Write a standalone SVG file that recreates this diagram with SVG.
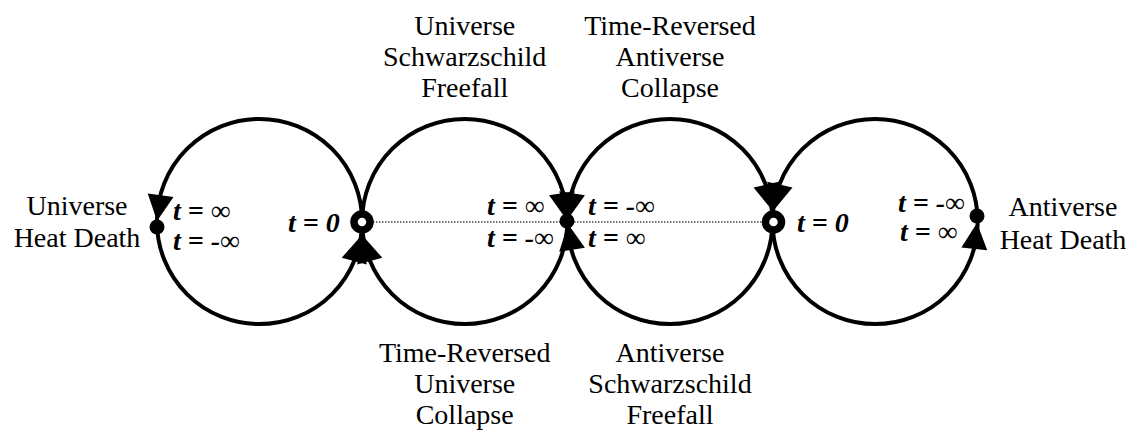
<svg xmlns="http://www.w3.org/2000/svg" xmlns:xlink="http://www.w3.org/1999/xlink" width="1131" height="432" viewBox="0 0 1131 432">
<style>
.lbl{font-family:"Liberation Serif","Times New Roman",serif;font-size:28px;fill:#000;text-anchor:middle}
.t{font-family:"Liberation Serif","Times New Roman",serif;font-size:28px;font-weight:bold;font-style:italic;fill:#000}
.inf{font-weight:normal;font-style:normal}
.orbit{fill:none;stroke:#000;stroke-width:4}
.dot{fill:#000}
.ring{fill:#fff;stroke:#000;stroke-width:7.5}
.axis{stroke:#444;stroke-width:1.3;stroke-dasharray:1.5 1.5;fill:none}
.ah{fill:#000}
</style>
<defs>
<path id="ah" d="M0,0 L-26,-13 L-26,13 Z"/>
</defs>
<rect width="1131" height="432" fill="#fff"/>
<g id="connectors">
<circle class="orbit" cx="259.5" cy="221.5" r="102.6"/>
<circle class="orbit" cx="464.7" cy="221.5" r="102.6"/>
<circle class="orbit" cx="669.9" cy="221.5" r="102.6"/>
<circle class="orbit" cx="875.1" cy="221.5" r="102.6"/>
<line class="axis" x1="373" y1="222" x2="762" y2="222"/>
<use xlink:href="#ah" href="#ah" class="ah" transform="translate(157,221) rotate(98)"/>
<use xlink:href="#ah" href="#ah" class="ah" transform="translate(361,236) rotate(-75)"/>
<use xlink:href="#ah" href="#ah" class="ah" transform="translate(363,236) rotate(-105)"/>
<use xlink:href="#ah" href="#ah" class="ah" transform="translate(566,219) rotate(81)"/>
<use xlink:href="#ah" href="#ah" class="ah" transform="translate(568,219) rotate(99)"/>
<use xlink:href="#ah" href="#ah" class="ah" transform="translate(568,224) rotate(-99)"/>
<use xlink:href="#ah" href="#ah" class="ah" transform="translate(772,210) rotate(77)"/>
<use xlink:href="#ah" href="#ah" class="ah" transform="translate(774,210) rotate(103)"/>
<use xlink:href="#ah" href="#ah" class="ah" transform="translate(977,223) rotate(-84)"/>
</g>
<g id="universe-heat-death">
<circle class="dot" cx="157" cy="227" r="7.5"/>
<text class="lbl" x="77" y="215">Universe</text>
<text class="lbl" x="77" y="247">Heat Death</text>
<text class="t" x="173" y="220">t = <tspan class="inf">∞</tspan></text>
<text class="t" x="173" y="250">t = -<tspan class="inf">∞</tspan></text>
</g>
<g id="big-bang-universe">
<circle class="ring" cx="362" cy="222" r="8"/>
<text class="t" x="288" y="232">t = 0</text>
</g>
<g id="schwarzschild-point">
<circle class="dot" cx="567" cy="221" r="7.5"/>
<text class="t" x="487" y="215">t = <tspan class="inf">∞</tspan></text>
<text class="t" x="487" y="247">t = -<tspan class="inf">∞</tspan></text>
<text class="t" x="588" y="215">t = -<tspan class="inf">∞</tspan></text>
<text class="t" x="588" y="247">t = <tspan class="inf">∞</tspan></text>
</g>
<g id="big-bang-antiverse">
<circle class="ring" cx="773.5" cy="222" r="8"/>
<text class="t" x="797" y="232">t = 0</text>
</g>
<g id="antiverse-heat-death">
<circle class="dot" cx="977" cy="216" r="7.5"/>
<text class="lbl" x="1063" y="216">Antiverse</text>
<text class="lbl" x="1063" y="249">Heat Death</text>
<text class="t" x="898" y="212">t = -<tspan class="inf">∞</tspan></text>
<text class="t" x="900" y="241">t = <tspan class="inf">∞</tspan></text>
</g>
<g id="universe-schwarzschild-freefall">
<text class="lbl" x="464.7" y="35">Universe</text>
<text class="lbl" x="464.7" y="66">Schwarzschild</text>
<text class="lbl" x="464.7" y="97">Freefall</text>
</g>
<g id="time-reversed-antiverse-collapse">
<text class="lbl" x="670" y="35">Time-Reversed</text>
<text class="lbl" x="670" y="66">Antiverse</text>
<text class="lbl" x="670" y="97">Collapse</text>
</g>
<g id="time-reversed-universe-collapse">
<text class="lbl" x="464.7" y="362">Time-Reversed</text>
<text class="lbl" x="464.7" y="393">Universe</text>
<text class="lbl" x="464.7" y="424">Collapse</text>
</g>
<g id="antiverse-schwarzschild-freefall">
<text class="lbl" x="670" y="362">Antiverse</text>
<text class="lbl" x="670" y="393">Schwarzschild</text>
<text class="lbl" x="670" y="424">Freefall</text>
</g>
</svg>
